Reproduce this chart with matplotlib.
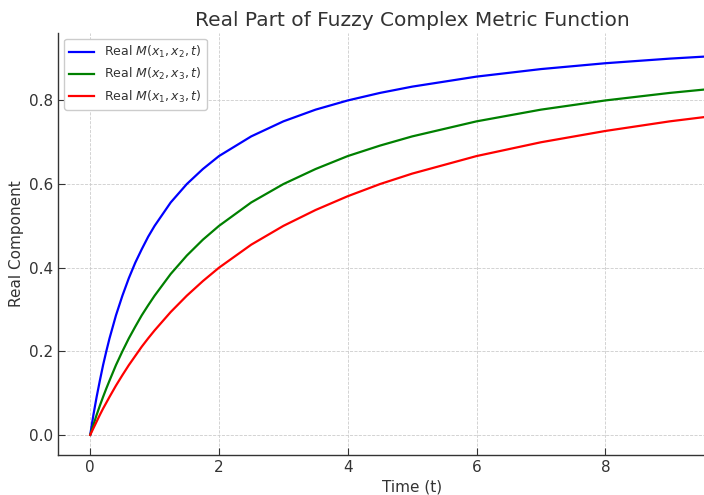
import matplotlib
matplotlib.use("Agg")
import matplotlib.pyplot as plt

t = [0, 0.025, 0.05, 0.1, 0.15, 0.2, 0.25, 0.3, 0.4, 0.5, 0.6, 0.7, 0.8, 0.9, 1.0, 1.25,
     1.5, 1.75, 2, 2.5, 3, 3.5, 4, 4.5, 5, 6, 7, 8, 9, 10]
m12 = [0, 0.024, 0.048, 0.091, 0.130, 0.167, 0.200, 0.231, 0.286, 0.333, 0.375, 0.412,
       0.444, 0.474, 0.500, 0.556, 0.600, 0.636, 0.667, 0.714, 0.750, 0.778, 0.800, 0.818,
       0.833, 0.857, 0.875, 0.889, 0.900, 0.909]
m23 = [0, 0.012, 0.024, 0.048, 0.070, 0.091, 0.111, 0.130, 0.167, 0.200, 0.231, 0.259,
       0.286, 0.310, 0.333, 0.385, 0.429, 0.467, 0.500, 0.556, 0.600, 0.636, 0.667, 0.692,
       0.714, 0.750, 0.778, 0.800, 0.818, 0.833]
m13 = [0, 0.008, 0.016, 0.032, 0.048, 0.063, 0.077, 0.091, 0.118, 0.143, 0.167, 0.189,
       0.211, 0.231, 0.250, 0.294, 0.333, 0.368, 0.400, 0.455, 0.500, 0.538, 0.571, 0.600,
       0.625, 0.667, 0.700, 0.727, 0.750, 0.769]
labels = [r"Real $M(x_1, x_2, t)$", r"Real $M(x_2, x_3, t)$", r"Real $M(x_1, x_3, t)$"]
colors = ["blue", "green", "red"]

txt = "#333333"
plt.rcParams["font.family"] = ["DejaVu Sans"]
fig = plt.figure(figsize=(7.04, 4.95), dpi=100)
ax = fig.add_axes([58 / 704, 40 / 495, 708.4 / 704, 422.3 / 495])

for y, lab, c in zip([m12, m23, m13], labels, colors):
    ax.plot(t, y, color=c, lw=1.6, label=lab)

ax.set_xlim(-0.5, 10.5)
ax.set_ylim(-0.048, 0.962)
ax.set_xticks([0, 2, 4, 6, 8])
ax.set_yticks([0.0, 0.2, 0.4, 0.6, 0.8])
ax.grid(True, ls="--", lw=0.6, color="#cccccc")
ax.set_axisbelow(True)
for s in ["top", "right"]:
    ax.spines[s].set_visible(False)
for s in ["left", "bottom"]:
    ax.spines[s].set_color(txt)
    ax.spines[s].set_linewidth(1.0)
ax.tick_params(direction="in", length=5, colors=txt, labelsize=11, labelcolor=txt)
ax.set_title("Real Part of Fuzzy Complex Metric Function", fontsize=14.5, color=txt, pad=5)
ax.set_xlabel("Time (t)", fontsize=11, color=txt, labelpad=3)
ax.set_ylabel("Real Component", fontsize=11, color=txt, labelpad=3.5)
leg = ax.legend(loc="upper left", fontsize=9, frameon=True, framealpha=1.0,
                edgecolor="#cccccc", borderaxespad=0.5)
for tx in leg.get_texts():
    tx.set_color(txt)

fig.savefig("out.png", dpi=100)
